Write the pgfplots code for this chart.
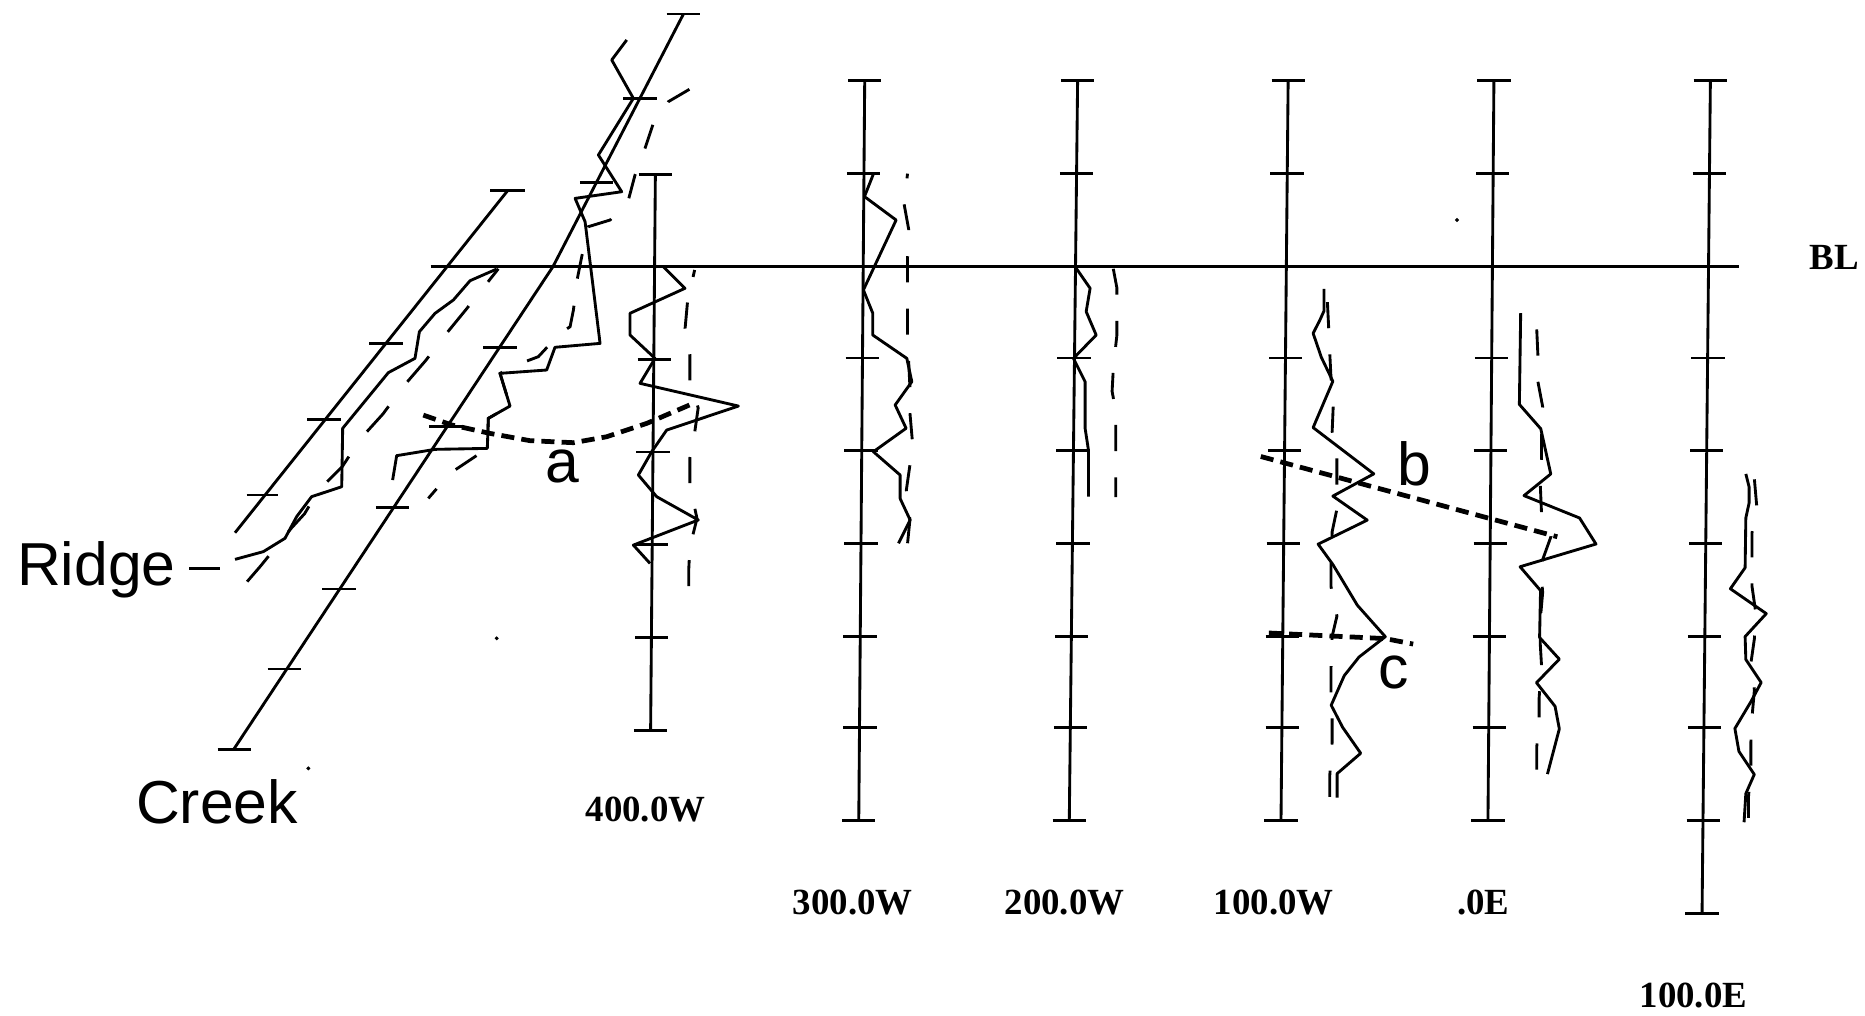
\documentclass[border=0pt]{standalone}
\usepackage{fontspec}
\setmainfont{Liberation Serif}
\newfontfamily\lsans{Liberation Sans}
\usepackage{pgfplots}
\pgfplotsset{compat=1.18}
\pgfplotsset{
  frame/.style={black, line width=1.2pt},
  prof/.style={black, line width=1.2pt, line join=round},
  dprof/.style={black, line width=1.2pt, dash pattern=on 11pt off 11pt},
  guide/.style={black, line width=2pt, dash pattern=on 5.5pt off 3pt},
}
\newcommand{\stlab}[1]{{\fontsize{15.5pt}{17pt}\selectfont\bfseries #1}}
\newcommand{\sslab}[1]{{\lsans\fontsize{25.5pt}{28pt}\selectfont #1}}
\begin{document}
\begin{tikzpicture}
\begin{axis}[
  scale only axis, width=784pt, height=427pt,
  xmin=0, xmax=1568, ymin=0, ymax=854, y dir=reverse,
  hide axis, clip=false, unbounded coords=jump,
]
% bounding box
\addplot[draw=none, forget plot] coordinates {(0,0) (1568,854)};

% base line BL
\addplot[black, line width=1pt] coordinates {(362,224) (1462,224)};

% ---------- station lines ----------
% 400W
\addplot[frame] coordinates {(551,147) (547,614)};
\addplot[frame] coordinates {(537,147)(565,147) (nan,nan) (536,224)(564,224) (nan,nan) (536,302)(564,302) (nan,nan) (535,380)(563,380) (nan,nan) (534,458)(562,458) (nan,nan) (534,536)(562,536) (nan,nan) (533,614)(561,614)};
% 300W
\addplot[frame] coordinates {(727,68) (722,690)};
\addplot[frame] coordinates {(713,68)(741,68) (nan,nan) (712,146)(740,146) (nan,nan) (712,224)(740,224) (nan,nan) (711,301)(739,301) (nan,nan) (710,379)(738,379) (nan,nan) (710,457)(738,457) (nan,nan) (709,535)(737,535) (nan,nan) (709,612)(737,612) (nan,nan) (708,690)(736,690)};
% 200W
\addplot[frame] coordinates {(906,68) (899,690)};
\addplot[frame] coordinates {(892,68)(920,68) (nan,nan) (891,146)(919,146) (nan,nan) (890,224)(918,224) (nan,nan) (889,301)(917,301) (nan,nan) (888,379)(916,379) (nan,nan) (888,457)(916,457) (nan,nan) (887,535)(915,535) (nan,nan) (886,612)(914,612) (nan,nan) (885,690)(913,690)};
% 100W
\addplot[frame] coordinates {(1083,68) (1077,690)};
\addplot[frame] coordinates {(1069,68)(1097,68) (nan,nan) (1068,146)(1096,146) (nan,nan) (1067,224)(1095,224) (nan,nan) (1067,301)(1095,301) (nan,nan) (1066,379)(1094,379) (nan,nan) (1065,457)(1093,457) (nan,nan) (1064,535)(1092,535) (nan,nan) (1064,612)(1092,612) (nan,nan) (1063,690)(1091,690)};
% .0E
\addplot[frame] coordinates {(1256,68) (1251,690)};
\addplot[frame] coordinates {(1242,68)(1270,68) (nan,nan) (1241,146)(1269,146) (nan,nan) (1241,224)(1269,224) (nan,nan) (1240,301)(1268,301) (nan,nan) (1239,379)(1267,379) (nan,nan) (1239,457)(1267,457) (nan,nan) (1238,535)(1266,535) (nan,nan) (1238,612)(1266,612) (nan,nan) (1237,690)(1265,690)};
% 100E
\addplot[frame] coordinates {(1438,68) (1431,768)};
\addplot[frame] coordinates {(1424,68)(1452,68) (nan,nan) (1423,146)(1451,146) (nan,nan) (1422,224)(1450,224) (nan,nan) (1422,301)(1450,301) (nan,nan) (1421,379)(1449,379) (nan,nan) (1420,457)(1448,457) (nan,nan) (1419,535)(1447,535) (nan,nan) (1419,612)(1447,612) (nan,nan) (1418,690)(1446,690) (nan,nan) (1417,768)(1445,768)};

% Creek line (oblique)
\addplot[frame] coordinates {(574.6,11.8) (465,224) (196.5,630)};
\addplot[frame] coordinates {(560.5,11.8)(588.6,11.8) (nan,nan) (524,82.7)(552,82.7) (nan,nan) (487.5,153.6)(515.5,153.6) (nan,nan) (406.4,292.3)(434.4,292.3) (nan,nan) (361,358.7)(389,358.7) (nan,nan) (316,426.6)(344,426.6) (nan,nan) (271,495.2)(299,495.2) (nan,nan) (225,562.5)(253,562.5) (nan,nan) (183,630)(211,630)};
% Ridge line (oblique)
\addplot[frame] coordinates {(426.8,160.3) (197.6,447.9)};
\addplot[frame] coordinates {(412,160.3)(441.4,160.3) (nan,nan) (310.4,288.7)(338.4,288.7) (nan,nan) (258.5,352.6)(286.5,352.6) (nan,nan) (207.4,416.2)(234,416.2)};
% Ridge leader dash
\addplot[frame] coordinates {(159,478) (185,478)};

% ---------- profiles ----------
% Creek profile
\addplot[prof] coordinates {(526.9,33.6)(514.3,50.4)(532.5,82.7)(503.1,130.3)(522.7,161.2)(483.5,166.8)(491.9,186.4)(504.5,288.7)(466.6,292.0)(459.6,311.1)(420.4,313.9)(428.8,341.4)(410.6,351.7)(409.7,377)(365.7,377.8)(333.5,383.1)(330.1,403.6)};
\addplot[dprof, dash pattern=on 10.5pt off 11.5pt] coordinates {(579.6,75.1)(561.9,85.5)(549.3,103.7)(542.3,124.7)(533.9,147.1)(528.3,168.2)(512.9,185)(494.7,190.6)(489.1,215.8)(484.9,236.8)(482.1,260.7)(479.3,274.7)(470.8,280.3)(452.6,299.9)(430.2,308.3)(420.4,314)(428.8,341.4)(410.6,351.7)(409.7,377)(378.3,398)(360.1,419)};
% Ridge profile
\addplot[prof] coordinates {(417.6,226.2)(395.2,236)(381.2,252.2)(365.7,263.5)(352.6,278.9)(348.9,301.3)(326.5,313.3)(288.1,360.1)(287.3,409.2)(262.0,417.6)(249.4,434.4)(239.6,452.6)(221.4,463.8)(197.6,470.3)};
\addplot[dprof, dash pattern=on 14pt off 13pt, dash phase=7pt] coordinates {(419,226)(392,260)(374,282)(358,303)(339,325)(322,348)(303,369)(288,392)(268,412)(256,432)(245,444)(219,476)(200,498)};

% 400W
\addplot[prof] coordinates {(557.7,224.2)(575.9,242.4)(529.7,263.4)(529.7,281.7)(550.7,301.3)(538.1,322.3)(620.8,341.4)(560.5,361.6)(547.9,379.8)(536.7,399.4)(552.1,417.6)(587.1,437.2)(532.5,458.3)(546.5,473.7)};
\addplot[dprof, dash phase=8pt] coordinates {(584,227)(578,254)(576,276)(580,298)(580,320)(587,343)(584,364)(580,385)(580,408)(586,436)(580,460)(579,480)(579,497)};
% 300W
\addplot[prof] coordinates {(734.3,146.3)(726.8,165.3)(753.4,185.0)(725.9,243.8)(733.8,263.4)(733.8,281.7)(762.4,301.3)(766.6,320.9)(752.6,340.5)(761.8,360.1)(734.3,379.8)(756.8,399.4)(756.8,419.2)(765.2,437.2)(755.4,456.8)};
\addplot[dprof, dash phase=9pt] coordinates {(763,146)(760,171)(764,193)(763,217)(763,237)(763,261)(763,282)(764,305)(765,325)(765,347)(767,370)(765,391)(762,412)(765,437)(763,457)};
% 200W
\addplot[prof] coordinates {(903.9,224.2)(916.5,242.4)(913.2,262.0)(921.6,281.7)(902.5,301.3)(912.3,320.9)(912.3,360.1)(915.1,378.4)(915.1,417.6)};
\addplot[dprof] coordinates {(936,226)(939,242)(939,263)(939,282)(937,300)(936,310)(935,329)(937,340)(938,352)(938,374)(938,385)(938,397)(938,418)};
% 100W
\addplot[prof] coordinates {(1113.1,242.9)(1113.1,261.5)(1109.6,269.3)(1104.0,280.2)(1110.9,300.4)(1120.6,320.6)(1104.0,359.5)(1155.0,398.4)(1120.6,417.1)(1149.5,437.3)(1108.2,457.5)(1120.6,474.6)(1141.2,508.9)(1164.7,535.3)(1142.6,552.4)(1130.2,568.0)(1119.2,592.9)(1128.8,611.5)(1144.0,633.3)(1124.2,650.4)(1124.2,670.6)};
\addplot[dprof] coordinates {(1116,254)(1117,274)(1118,297)(1119,317)(1121,339)(1120,363)(1124,384)(1124,402)(1124,428)(1120,447)(1119,478)(1119,493)(1124,518)(1120,535)(1119,563)(1119,584)(1120,602)(1120,624)(1118,652)(1118,671)};
% .0E
\addplot[prof] coordinates {(1278.5,263.2)(1277.4,340)(1295.4,360.5)(1303.8,398.5)(1281.3,416.7)(1328,435.5)(1341.8,457.4)(1278,476.5)(1295.2,496.5)(1294.4,536)(1311,554.2)(1291.8,574)(1307.4,593.8)(1311,612.8)(1301,650.8)};
\addplot[dprof] coordinates {(1292,277)(1293,299)(1293,321)(1297,342)(1296,361)(1296,386)(1295,408)(1296,431)(1304,451)(1295,476)(1297,498)(1295,521)(1295,542)(1296,559)(1294,587)(1294,608)(1292,628)(1292,651)};
% 100E
\addplot[prof] coordinates {(1467.8,398.5)(1470.6,409.7)(1470.6,422.6)(1467.8,435.5)(1467.2,477.3)(1454.8,495)(1485,515.9)(1467.2,535.2)(1467.8,554.5)(1480.7,573.8)(1472.1,589.9)(1458.6,612.5)(1462,631.8)(1474.9,651.1)(1467.8,667.2)(1466.3,691.3)};
\addplot[dprof] coordinates {(1475,403)(1477,426)(1473,448)(1473,471)(1473,493)(1476,514)(1475,537)(1472,558)(1475,580)(1473,603)(1472,625)(1472,648)(1470,670)(1470,691)};

% ---------- interpreted trends a, b, c ----------
\addplot[guide] coordinates {(355.9,349)(379.8,357.3)(412,364.4)(445.6,370.5)(482.1,372.2)(510.1,367.2)(543.7,356)(581.6,339.7)};
\addplot[guide] coordinates {(1060,383.8) (1309.3,451.3)};
\addplot[guide] coordinates {(1066.8,532.2)(1164.7,536.9)(1188.1,541.5)};

% specks
\addplot[only marks, mark=*, mark size=0.6pt, black] coordinates {(417.6,536.7) (259.2,646) (1225,185)};

% ---------- labels ----------
\node[anchor=base west, inner sep=0pt] at (axis cs:1521,227) {\stlab{BL}};
\node[anchor=base, inner sep=0pt] at (axis cs:542.7,691) {\stlab{400.0W}};
\node[anchor=base, inner sep=0pt] at (axis cs:717,769) {\stlab{300.0W}};
\node[anchor=base, inner sep=0pt] at (axis cs:895,769) {\stlab{200.0W}};
\node[anchor=base, inner sep=0pt] at (axis cs:1071,769) {\stlab{100.0W}};
\node[anchor=base, inner sep=0pt] at (axis cs:1247,769) {\stlab{.0E}};
\node[anchor=base, inner sep=0pt] at (axis cs:1423.7,847) {\stlab{100.0E}};
\node[anchor=base west, inner sep=0pt] at (axis cs:14,492) {\sslab{Ridge}};
\node[anchor=base west, inner sep=0pt] at (axis cs:114,692) {\sslab{Creek}};
\node[anchor=base, inner sep=0pt] at (axis cs:473,406) {\sslab{a}};
\node[anchor=base, inner sep=0pt] at (axis cs:1189,408) {\sslab{b}};
\node[anchor=base, inner sep=0pt] at (axis cs:1171.5,579) {\sslab{c}};
\end{axis}
\end{tikzpicture}
\end{document}
